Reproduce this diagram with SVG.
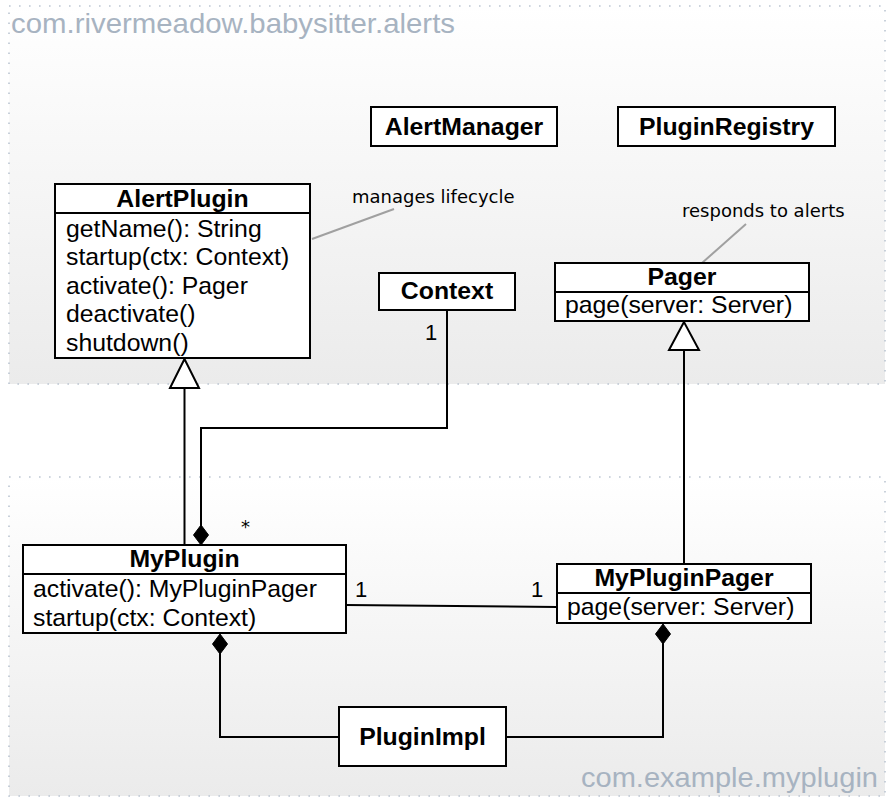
<svg xmlns="http://www.w3.org/2000/svg" width="889" height="799" viewBox="0 0 889 799">
<defs>
<linearGradient id="pkg" x1="0" y1="0" x2="0" y2="1">
<stop offset="0" stop-color="#ffffff"/>
<stop offset="1" stop-color="#ebebeb"/>
</linearGradient>
<style>
.pkg{fill:url(#pkg);stroke:#bcc6d2;stroke-width:1.6;stroke-dasharray:1.6 8.4}
.pkglabel{font-family:"Liberation Sans",Arial,sans-serif;font-size:28px;fill:#a7b3c1}
.box{fill:#ffffff;stroke:#000;stroke-width:2}
.sep{stroke:#000;stroke-width:2}
.title{font-family:"Liberation Sans",Arial,sans-serif;font-size:24.8px;font-weight:bold;fill:#000;text-anchor:middle}
.op{font-family:"Liberation Sans",Arial,sans-serif;font-size:24.8px;fill:#000}
.mult{font-family:"Liberation Sans",Arial,sans-serif;font-size:22px;fill:#000}
.note{font-family:"DejaVu Sans",Verdana,sans-serif;font-size:18px;fill:#000}
.noteline{stroke:#a0a0a0;stroke-width:2;fill:none}
.edge{stroke:#000;stroke-width:2;fill:none}
.tri{fill:#fff;stroke:#000;stroke-width:2}
.dia{fill:#000;stroke:#000;stroke-width:1}
</style>
</defs>
<rect width="889" height="799" fill="#ffffff"/>
<g id="pkg-alerts">
<rect class="pkg" x="9" y="6" width="876" height="378"/>
<text class="pkglabel" x="11" y="33" textLength="444" lengthAdjust="spacingAndGlyphs">com.rivermeadow.babysitter.alerts</text>
</g>
<g id="pkg-myplugin">
<rect class="pkg" x="9" y="477" width="876" height="319"/>
<text class="pkglabel" x="581" y="787" textLength="297" lengthAdjust="spacingAndGlyphs">com.example.myplugin</text>
</g>
<g id="connectors">
<line class="noteline" x1="394" y1="209" x2="312" y2="239"/>
<line class="noteline" x1="746" y1="224" x2="702" y2="263"/>
<line class="edge" x1="184.5" y1="388" x2="184.5" y2="545"/>
<polygon class="tri" points="184.5,359 170,388 199,388"/>
<polyline class="edge" points="447,310 447,428 201,428 201,527"/>
<polygon class="dia" points="201,525 208.5,535 201,545 193.5,535"/>
<line class="edge" x1="684" y1="350" x2="684" y2="564"/>
<polygon class="tri" points="684,322 669,350 699,350"/>
<line class="edge" x1="346" y1="605" x2="557" y2="607"/>
<polyline class="edge" points="339,737 220,737 220,652"/>
<polygon class="dia" points="220,634 227.5,644 220,654 212.5,644"/>
<polyline class="edge" points="506,737 663,737 663,642"/>
<polygon class="dia" points="663,624 670.5,634 663,644 655.5,634"/>
<text class="mult" x="425" y="340">1</text>
<text class="note" x="241" y="533">*</text>
<text class="mult" x="355" y="597">1</text>
<text class="mult" x="531" y="597">1</text>
</g>
<g id="note-lifecycle"><text class="note" x="352" y="203">manages lifecycle</text></g>
<g id="note-alerts"><text class="note" x="682" y="217">responds to alerts</text></g>
<g id="AlertManager">
<rect class="box" x="371" y="107" width="186" height="39"/>
<text class="title" x="464" y="135">AlertManager</text>
</g>
<g id="PluginRegistry">
<rect class="box" x="618" y="107" width="217" height="39"/>
<text class="title" x="726.5" y="135">PluginRegistry</text>
</g>
<g id="AlertPlugin">
<rect class="box" x="55" y="184" width="255" height="174"/>
<line class="sep" x1="55" y1="213" x2="310" y2="213"/>
<text class="title" x="182.5" y="207">AlertPlugin</text>
<text class="op" x="66" y="236.5">getName(): String</text>
<text class="op" x="66" y="265">startup(ctx: Context)</text>
<text class="op" x="66" y="293.5">activate(): Pager</text>
<text class="op" x="66" y="322">deactivate()</text>
<text class="op" x="66" y="350.5">shutdown()</text>
</g>
<g id="Context">
<rect class="box" x="379" y="273" width="136" height="37"/>
<text class="title" x="447" y="299">Context</text>
</g>
<g id="Pager">
<rect class="box" x="555" y="263" width="254" height="58"/>
<line class="sep" x1="555" y1="292" x2="809" y2="292"/>
<text class="title" x="682" y="285">Pager</text>
<text class="op" x="565" y="313">page(server: Server)</text>
</g>
<g id="MyPlugin">
<rect class="box" x="23" y="545" width="323" height="88"/>
<line class="sep" x1="23" y1="574" x2="346" y2="574"/>
<text class="title" x="184.5" y="567">MyPlugin</text>
<text class="op" x="33" y="597">activate(): MyPluginPager</text>
<text class="op" x="33" y="625.5">startup(ctx: Context)</text>
</g>
<g id="MyPluginPager">
<rect class="box" x="557" y="564" width="254" height="59"/>
<line class="sep" x1="557" y1="593" x2="811" y2="593"/>
<text class="title" x="684" y="586">MyPluginPager</text>
<text class="op" x="567" y="615">page(server: Server)</text>
</g>
<g id="PluginImpl">
<rect class="box" x="339" y="707" width="167" height="59"/>
<text class="title" x="422.5" y="745">PluginImpl</text>
</g>
</svg>
